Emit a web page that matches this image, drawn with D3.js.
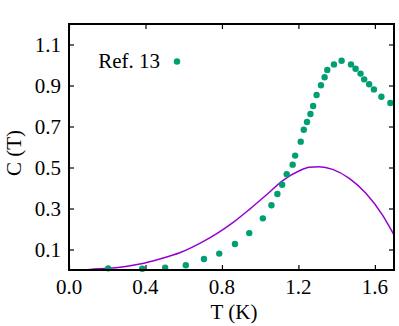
<!DOCTYPE html>
<html>
<head>
<meta charset="utf-8">
<script src="https://cdn.jsdelivr.net/npm/d3@7"></script>
<style>
  body { margin: 0; background: #fff; }
</style>
</head>
<body>
<div id="chart"></div>
<script>
// Ref. 13 measured points (T in K, C)
const refT = [0.205, 0.383, 0.503, 0.611, 0.706, 0.786, 0.868, 0.943, 1.014, 1.059,
    1.090, 1.115, 1.139, 1.170, 1.183, 1.212, 1.228, 1.245, 1.263, 1.277,
    1.295, 1.318, 1.337, 1.351, 1.386, 1.426, 1.475, 1.499, 1.525, 1.544,
    1.570, 1.595, 1.634, 1.681];
const refC = [0.008, 0.006, 0.011, 0.023, 0.054, 0.080, 0.127, 0.180, 0.252, 0.316,
    0.371, 0.416, 0.467, 0.514, 0.558, 0.626, 0.684, 0.722, 0.761, 0.800,
    0.854, 0.901, 0.940, 0.976, 1.003, 1.021, 1.003, 0.982, 0.958, 0.930,
    0.906, 0.881, 0.845, 0.815];

// model curve
const curveT = [0.08, 0.110, 0.214, 0.371, 0.475, 0.579, 0.684, 0.771, 0.857, 0.944,
    1.032, 1.118, 1.205, 1.257, 1.309, 1.379, 1.466, 1.553, 1.640, 1.700];
const curveC = [0.0, 0.003, 0.008, 0.029, 0.054, 0.084, 0.130, 0.176, 0.231, 0.296,
    0.366, 0.436, 0.484, 0.501, 0.504, 0.491, 0.447, 0.374, 0.268, 0.171];

const xTicks = [0.0, 0.4, 0.8, 1.2, 1.6];
const yTicks = [0.1, 0.3, 0.5, 0.7, 0.9, 1.1];

const width = 399, height = 326;
const margin = { top: 24, right: 5, bottom: 56, left: 69 };
const font = '"Liberation Serif"';
const fontSize = 21;

const svg = d3.select('#chart').append('svg')
    .attr('width', width)
    .attr('height', height);

const x = d3.scaleLinear().domain([0, 1.7]).range([margin.left, width - margin.right]);
const y = d3.scaleLinear().domain([0, 1.2]).range([height - margin.bottom, margin.top]);

const tickLen = 5;

// mirrored inward ticks, labels drawn separately below
svg.append('g')
    .attr('transform', `translate(0,${y.range()[0]})`)
    .call(d3.axisBottom(x).tickValues(xTicks).tickSize(-tickLen).tickFormat(''))
    .call(g => g.select('.domain').remove());
svg.append('g')
    .attr('transform', `translate(0,${y.range()[1]})`)
    .call(d3.axisTop(x).tickValues(xTicks).tickSize(-tickLen).tickFormat(''))
    .call(g => g.select('.domain').remove());
svg.append('g')
    .attr('transform', `translate(${x.range()[0]},0)`)
    .call(d3.axisLeft(y).tickValues(yTicks).tickSize(-tickLen).tickFormat(''))
    .call(g => g.select('.domain').remove());
svg.append('g')
    .attr('transform', `translate(${x.range()[1]},0)`)
    .call(d3.axisRight(y).tickValues(yTicks).tickSize(-tickLen).tickFormat(''))
    .call(g => g.select('.domain').remove());

svg.selectAll('.tick line').attr('stroke', '#000').attr('stroke-width', 1.2);

const fmt = d3.format('.1f');

svg.append('g')
    .selectAll('text')
    .data(xTicks)
    .join('text')
    .attr('x', d => x(d))
    .attr('y', y.range()[0] + 24)
    .attr('text-anchor', 'middle')
    .attr('font-family', font)
    .attr('font-size', fontSize)
    .text(d => fmt(d));

svg.append('g')
    .selectAll('text')
    .data(yTicks)
    .join('text')
    .attr('x', x.range()[0] - 8)
    .attr('y', d => y(d) + 7)
    .attr('text-anchor', 'end')
    .attr('font-family', font)
    .attr('font-size', fontSize)
    .text(d => fmt(d));

// model line
const line = d3.line()
    .x((d, i) => x(curveT[i]))
    .y((d, i) => y(curveC[i]))
    .curve(d3.curveMonotoneX);

svg.append('path')
    .datum(curveT)
    .attr('d', line)
    .attr('fill', 'none')
    .attr('stroke', '#9400d3')
    .attr('stroke-width', 1.5);

// reference points
svg.append('g')
    .selectAll('circle')
    .data(refT)
    .join('circle')
    .attr('cx', d => x(d))
    .attr('cy', (d, i) => y(refC[i]))
    .attr('r', 3.2)
    .attr('fill', '#009e73');

// frame
svg.append('rect')
    .attr('x', x.range()[0])
    .attr('y', y.range()[1])
    .attr('width', x.range()[1] - x.range()[0])
    .attr('height', y.range()[0] - y.range()[1])
    .attr('fill', 'none')
    .attr('stroke', '#000')
    .attr('stroke-width', 2);

// legend
svg.append('text')
    .attr('x', 160)
    .attr('y', 68)
    .attr('text-anchor', 'end')
    .attr('font-family', font)
    .attr('font-size', fontSize)
    .text('Ref. 13');
svg.append('circle')
    .attr('cx', 177)
    .attr('cy', 61.5)
    .attr('r', 3.2)
    .attr('fill', '#009e73');

// axis labels
svg.append('text')
    .attr('x', 234)
    .attr('y', 319)
    .attr('text-anchor', 'middle')
    .attr('font-family', font)
    .attr('font-size', fontSize)
    .text('T (K)');
svg.append('text')
    .attr('transform', 'translate(21,153) rotate(-90)')
    .attr('text-anchor', 'middle')
    .attr('font-family', font)
    .attr('font-size', fontSize)
    .text('C (T)');
</script>
</body>
</html>
